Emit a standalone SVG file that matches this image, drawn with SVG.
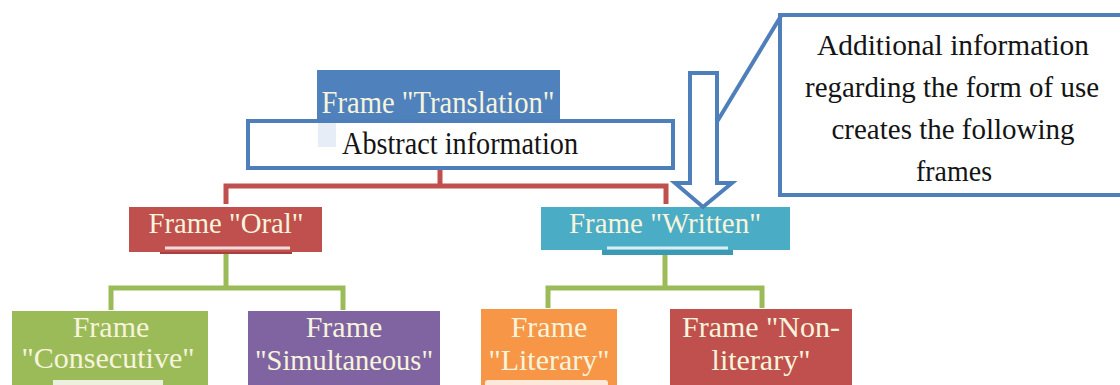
<svg xmlns="http://www.w3.org/2000/svg" width="1120" height="385" viewBox="0 0 1120 385" font-family="Liberation Serif, DejaVu Serif, serif">
<style>
text{font-family:'Liberation Serif',serif;font-size:30px;text-anchor:middle}
.big{font-size:32px}
.lt{fill:#f6f4dc}
.dk{fill:#141414}
.red{stroke:#c0504d;stroke-width:5;fill:none}
.grn{stroke:#9bbb59;stroke-width:5;fill:none}
.bl{stroke:#4f7fba;stroke-width:4}
</style>
<rect width="1120" height="385" fill="#ffffff"/>
<g id="connectors">
<path class="red" d="M440,168 V186 M226,204 V186 H666 V204"/>
<path class="grn" d="M226,254 V288 M111,310 V288 H343 V310"/>
<path class="grn" d="M665,255 V288 M548,308 V288 H762 V308"/>
</g>
<g id="callout">
<path d="M1120,15 H780 V195 H1120" fill="#ffffff" class="bl"/>
<line x1="781" y1="16" x2="712" y2="130" class="bl"/>
<text class="dk" x="953" y="55" textLength="272" lengthAdjust="spacingAndGlyphs">Additional information</text>
<text class="dk" x="952" y="97" textLength="294" lengthAdjust="spacingAndGlyphs">regarding the form of use</text>
<text class="dk" x="953" y="139" textLength="243" lengthAdjust="spacingAndGlyphs">creates the following</text>
<text class="dk" x="954" y="181" textLength="76" lengthAdjust="spacingAndGlyphs">frames</text>
</g>
<g id="translation">
<rect x="317" y="70" width="243" height="53" fill="#4f81bd"/>
<rect x="248" y="121" width="425" height="47" fill="#ffffff" class="bl"/>
<rect x="318" y="123" width="18" height="24" fill="#e6edf6"/>
<text class="lt big" x="438" y="113" textLength="233" lengthAdjust="spacingAndGlyphs">Frame "Translation"</text>
<text class="dk big" x="460" y="154" textLength="236" lengthAdjust="spacingAndGlyphs">Abstract information</text>
</g>
<g id="oral">
<rect x="160" y="240" width="132" height="14" fill="#a9403d"/>
<rect x="129" y="207" width="193" height="45" fill="#c0504d"/>
<line x1="165" y1="248" x2="290" y2="248" stroke="#f2dcdb" stroke-width="3"/>
<text class="lt" x="226" y="233" textLength="155" lengthAdjust="spacingAndGlyphs">Frame "Oral"</text>
</g>
<g id="written">
<rect x="602" y="240" width="131" height="15" fill="#3a9ab4"/>
<rect x="541" y="207" width="249" height="43" fill="#4bacc6"/>
<line x1="607" y1="248" x2="728" y2="248" stroke="#daeef3" stroke-width="3"/>
<text class="lt" x="665" y="233" textLength="192" lengthAdjust="spacingAndGlyphs">Frame "Written"</text>
</g>
<g id="arrow">
<polygon points="690,73 717,73 717,183 732,183 703,207 675,183 690,183" fill="#ffffff" class="bl" stroke-linejoin="miter"/>
</g>
<g id="consecutive">
<rect x="12" y="311" width="196" height="80" fill="#9bbb59"/>
<rect x="53" y="380" width="110" height="8" fill="#ebf1de"/>
<text class="lt" x="111" y="337">Frame</text>
<text class="lt" x="108" y="368" textLength="173" lengthAdjust="spacingAndGlyphs">"Consecutive"</text>
</g>
<g id="simultaneous">
<rect x="248" y="311" width="192" height="80" fill="#8064a2"/>
<text class="lt" x="344" y="337">Frame</text>
<text class="lt" x="344" y="370" textLength="178" lengthAdjust="spacingAndGlyphs">"Simultaneous"</text>
</g>
<g id="literary">
<rect x="481" y="309" width="136" height="80" fill="#f79646"/>
<rect x="485" y="380" width="123" height="8" rx="3" fill="#fde9d9"/>
<text class="lt" x="549" y="337">Frame</text>
<text class="lt" x="549" y="370">"Literary"</text>
</g>
<g id="nonliterary">
<rect x="670" y="309" width="182" height="80" fill="#c0504d"/>
<text class="lt" x="761" y="337">Frame "Non-</text>
<text class="lt" x="761" y="370">literary"</text>
</g>
</svg>
